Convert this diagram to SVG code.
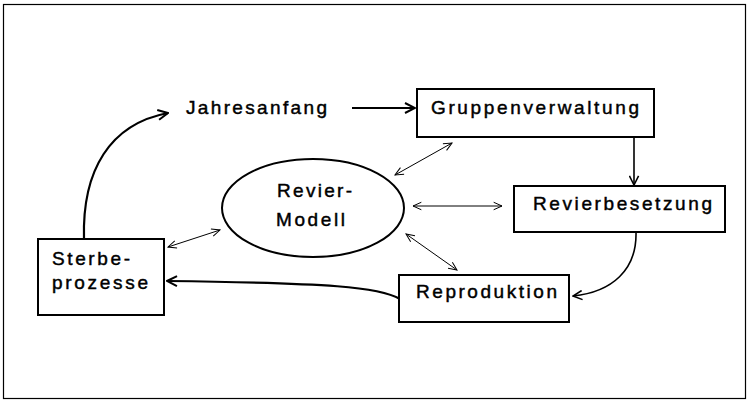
<svg xmlns="http://www.w3.org/2000/svg" width="750" height="404" viewBox="0 0 750 404">
<style>
.box{fill:#fff;stroke:#000;stroke-width:2}
.t{font-family:"Liberation Sans",Arial,sans-serif;font-size:19px;fill:#000;stroke:#000;stroke-width:0.45}
.thick{fill:none;stroke:#000;stroke-width:2.2}
.mid{fill:none;stroke:#000;stroke-width:1.6}
.thin{fill:none;stroke:#000;stroke-width:1}
</style>
<defs>
<marker id="ah" viewBox="0 0 12 12" refX="11" refY="6" markerWidth="12" markerHeight="12" markerUnits="userSpaceOnUse" orient="auto">
<path d="M1,1 L11,6 L1,11" fill="none" stroke="#000" stroke-width="2"/>
</marker>
<marker id="am" viewBox="0 0 12 12" refX="11" refY="6" markerWidth="11" markerHeight="11" markerUnits="userSpaceOnUse" orient="auto">
<path d="M1,1 L11,6 L1,11" fill="none" stroke="#000" stroke-width="1.7"/>
</marker>
<marker id="at" viewBox="0 0 12 12" refX="11" refY="6" markerWidth="10" markerHeight="10" markerUnits="userSpaceOnUse" orient="auto-start-reverse">
<path d="M1,1.5 L11,6 L1,10.5" fill="none" stroke="#000" stroke-width="1.2"/>
</marker>
</defs>
<rect x="3.5" y="4.5" width="742" height="394" fill="#fff" stroke="#000" stroke-width="1.2"/>
<g id="connectors">
<path class="thick" d="M84,239 C82,170 110,124 168,113" marker-end="url(#ah)"/>
<path class="thick" d="M352,108 L415,108" marker-end="url(#ah)"/>
<path class="mid" d="M634,137 L634,185" marker-end="url(#am)"/>
<path class="mid" d="M636,232 C637,270 612,292 573,296" marker-end="url(#am)"/>
<path class="thick" d="M400,299 C380,287 330,283 167,281" marker-end="url(#ah)"/>
<path class="thin" d="M395,175 L452,143" marker-start="url(#at)" marker-end="url(#at)"/>
<path class="thin" d="M413,206 L502,206" marker-start="url(#at)" marker-end="url(#at)"/>
<path class="thin" d="M406,234 L457,270" marker-start="url(#at)" marker-end="url(#at)"/>
<path class="thin" d="M168,247 L220,230" marker-start="url(#at)" marker-end="url(#at)"/>
</g>
<g id="jahresanfang">
<text class="t" x="186" y="114" textLength="141" lengthAdjust="spacing">Jahresanfang</text>
</g>
<g id="gruppenverwaltung">
<rect class="box" x="417" y="89" width="237" height="48"/>
<text class="t" x="431" y="114" textLength="208" lengthAdjust="spacing">Gruppenverwaltung</text>
</g>
<g id="revierbesetzung">
<rect class="box" x="514" y="186" width="211" height="46"/>
<text class="t" x="533" y="210" textLength="179" lengthAdjust="spacing">Revierbesetzung</text>
</g>
<g id="reproduktion">
<rect class="box" x="399" y="275" width="170" height="47"/>
<text class="t" x="416" y="298" textLength="141" lengthAdjust="spacing">Reproduktion</text>
</g>
<g id="sterbeprozesse">
<rect class="box" x="38" y="239" width="126" height="76"/>
<text class="t" x="52" y="265" textLength="78" lengthAdjust="spacing">Sterbe-</text>
<text class="t" x="52" y="289" textLength="96" lengthAdjust="spacing">prozesse</text>
</g>
<g id="reviermodell">
<ellipse cx="313" cy="208" rx="91" ry="49" fill="#fff" stroke="#000" stroke-width="2"/>
<text class="t" x="277" y="197" textLength="75" lengthAdjust="spacing">Revier-</text>
<text class="t" x="276" y="226" textLength="69" lengthAdjust="spacing">Modell</text>
</g>
</svg>
